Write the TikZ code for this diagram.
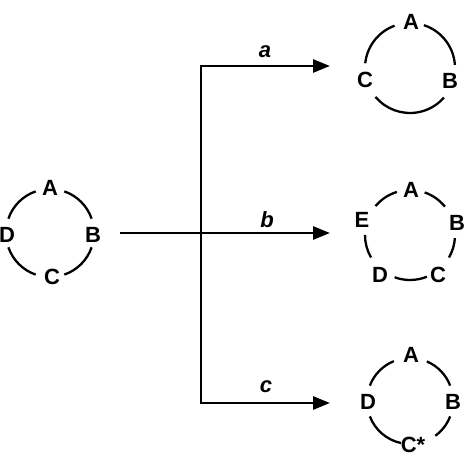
\documentclass[tikz,border=0pt]{standalone}
\usepackage{fontspec}
\setmainfont{Liberation Sans}
\usetikzlibrary{arrows.meta}

\tikzset{
  ring/.style={line width=2.3pt},
  lbl/.style={font=\fontsize{22}{24}\selectfont\bfseries, inner sep=0pt},
  path/.style={line width=2.8pt},
  arr/.style={path, -{Triangle[length=17pt,width=13pt]}},
  case/.style={font=\fontsize{22}{24}\selectfont\bfseries\itshape, inner sep=0pt}
}

\begin{document}
\begin{tikzpicture}[x=1pt,y=1pt]
			\useasboundingbox (0,0) rectangle (465,465);
			
			% ring on the left
			\node[lbl] (lA) at (50,277) {A};
			\node[lbl] (lB) at (93,230) {B};
			\node[lbl] (lC) at (52,188) {C};
			\node[lbl] (lD) at (7,230) {D};
			\draw[ring] ([shift={(50,232)}]19:44) arc[start angle=19, end angle=71, radius=44];
			\draw[ring] ([shift={(50,232)}]109:44) arc[start angle=109, end angle=161, radius=44];
			\draw[ring] ([shift={(50,232)}]199:44) arc[start angle=199, end angle=251, radius=44];
			\draw[ring] ([shift={(50,232)}]289:44) arc[start angle=289, end angle=341, radius=44];
			
			% ring a
			\node[lbl] (aA) at (411,443) {A};
			\node[lbl] (aB) at (450,384) {B};
			\node[lbl] (aC) at (365,385) {C};
			\draw[ring] ([shift={(410,397)}]4:45) arc[start angle=4, end angle=72, radius=45];
			\draw[ring] ([shift={(410,397)}]110:45) arc[start angle=110, end angle=174, radius=45];
			\draw[ring] ([shift={(410,397)}]220:45) arc[start angle=220, end angle=319, radius=45];
			
			% ring b
			\node[lbl] (bA) at (411,275) {A};
			\node[lbl] (bB) at (457,242) {B};
			\node[lbl] (bC) at (438,190) {C};
			\node[lbl] (bD) at (380,190) {D};
			\node[lbl] (bE) at (362,245) {E};
			\draw[ring] ([shift={(410,230)}]39:45) arc[start angle=39, end angle=71, radius=45];
			\draw[ring] ([shift={(410,230)}]107:45) arc[start angle=107, end angle=140, radius=45];
			\draw[ring] ([shift={(410,230)}]180:45) arc[start angle=180, end angle=210, radius=45];
			\draw[ring] ([shift={(410,230)}]250:45) arc[start angle=250, end angle=292, radius=45];
			\draw[ring] ([shift={(410,230)}]-30:45) arc[start angle=-30, end angle=-4, radius=45];
			
			% ring c
			\node[lbl] (cA) at (411,110) {A};
			\node[lbl] (cB) at (453,63) {B};
			\node[lbl] (cC) at (413,20) {C*};
			\node[lbl] (cD) at (368,63) {D};
			\draw[ring] ([shift={(410,64)}]21:43) arc[start angle=21, end angle=67, radius=43];
			\draw[ring] ([shift={(410,64)}]112:43) arc[start angle=112, end angle=159, radius=43];
			\draw[ring] ([shift={(410,64)}]201:43) arc[start angle=201, end angle=258, radius=43];
			\draw[ring] ([shift={(410,64)}]-54:43) arc[start angle=-54, end angle=-21, radius=43];
			
			% arrows
			\coordinate (src) at (120,232);
			\coordinate (split) at (201,232);
			\coordinate (tipa) at (330,399);
			\coordinate (tipb) at (330,232);
			\coordinate (tipc) at (330,62);
			\draw[arr] (src) -- (tipb);
			\draw[arr] (split) |- (tipa);
			\draw[arr] (split) |- (tipc);
			
			\node[case] (ka) at (265,413) {a};
			\node[case] (kb) at (267,245) {b};
			\node[case] (kc) at (266,78) {c};
		\end{tikzpicture}
\end{document}
